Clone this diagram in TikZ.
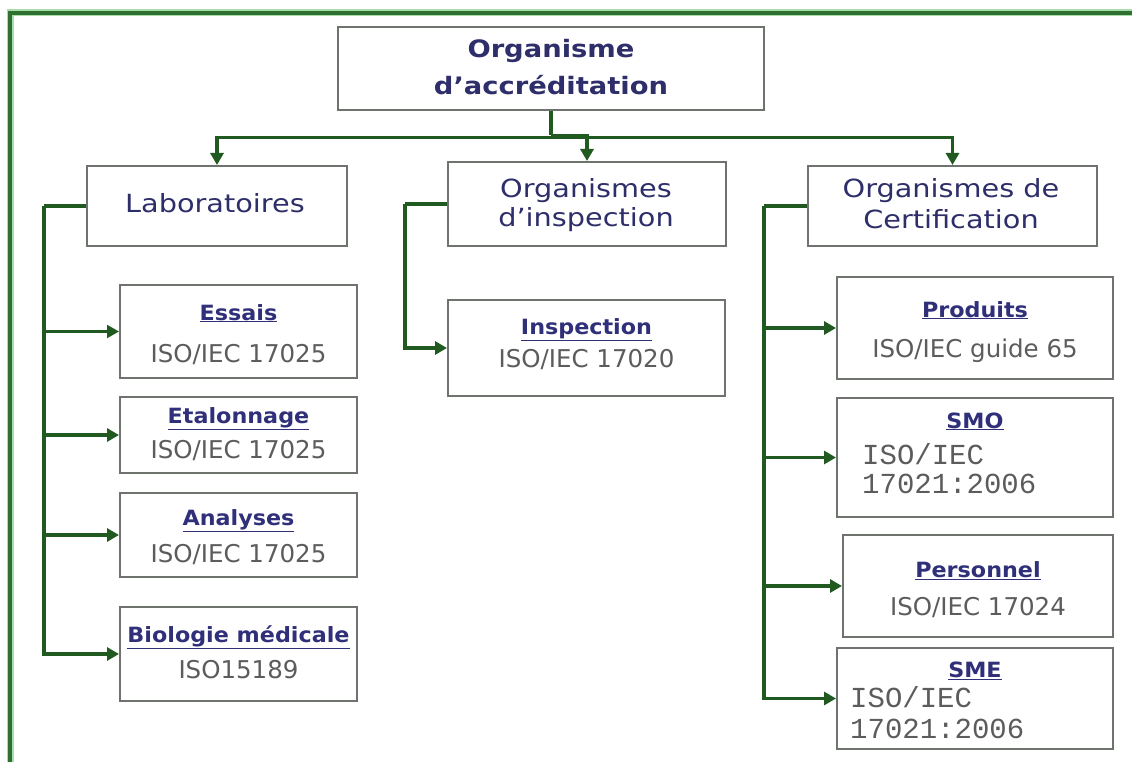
\documentclass[tikz,border=0pt]{standalone}
\usepackage{fontspec}
\setmainfont{DejaVu Sans}
\newfontfamily\headf{DejaVu Sans}[FakeStretch=1.15]
\newfontfamily\topf{DejaVu Sans Bold}[FakeStretch=1.14]
\newfontfamily\subf{DejaVu Sans Bold}[FakeStretch=1.06]
\newfontfamily\monof{Liberation Mono}
\usetikzlibrary{arrows.meta,calc}

\definecolor{navy}{HTML}{2E2E6A}
\definecolor{subnavy}{HTML}{30307A}
\definecolor{isogray}{HTML}{5C5C5C}
\definecolor{boxgray}{HTML}{6E736E}
\definecolor{wire}{HTML}{215A21}
\definecolor{framegreen}{HTML}{2F6F2F}
\definecolor{framehalo}{HTML}{A8DCA8}

\tikzset{
  box/.style={draw=boxgray, line width=2pt, fill=white, inner sep=0pt},
  conn/.style={draw=wire, line width=3.4pt},
  thinconn/.style={conn, line width=2.2pt},
  tip/.style={-{Triangle[length=12pt,width=13pt]}},
  arr/.style={conn, tip},
  thinarr/.style={thinconn, tip},
  txt/.style={anchor=base, inner sep=0pt},
  toptxt/.style={txt, text=navy, font=\topf\fontsize{24}{28}\selectfont},
  headtxt/.style={txt, text=navy, font=\headf\fontsize{25}{30}\selectfont},
  subtxt/.style={txt, text=subnavy, font=\subf\fontsize{21}{25}\selectfont},
  isotxt/.style={txt, text=isogray, font=\fontsize{24.5}{29}\selectfont},
  monotxt/.style={anchor=base west, inner sep=0pt, text=isogray, font=\monof\fontsize{29}{33}\selectfont},
}

\begin{document}
\begin{tikzpicture}[x=1pt, y=-1pt]
\useasboundingbox (0,0) rectangle (1132,762);
\fill[white] (0,0) rectangle (1132,762);

% outer frame (left and top edges)
\draw[framehalo, line width=7pt] (10,762) -- (10,13) -- (1132,13);
\draw[framegreen, line width=3.5pt] (10,762) -- (10,13) -- (1132,13);

% boxes
\node[box, minimum width=426pt, minimum height=83pt] (acc) at (551,68.5) {};
\node[box, minimum width=260pt, minimum height=80pt] (lab) at (217,206) {};
\node[box, minimum width=278pt, minimum height=84pt] (insp) at (587,204) {};
\node[box, minimum width=289pt, minimum height=80pt] (cert) at (952.5,206) {};

\node[box, minimum width=237pt, minimum height=93pt] (essais) at (238.5,331.5) {};
\node[box, minimum width=237pt, minimum height=76pt] (etal) at (238.5,435) {};
\node[box, minimum width=237pt, minimum height=84pt] (anal) at (238.5,535) {};
\node[box, minimum width=237pt, minimum height=94pt] (bio) at (238.5,654) {};

\node[box, minimum width=277pt, minimum height=96pt] (inspe) at (586.5,348) {};

\node[box, minimum width=276pt, minimum height=102pt] (prod) at (975,328) {};
\node[box, minimum width=276pt, minimum height=119pt] (smo) at (975,457.5) {};
\node[box, minimum width=270pt, minimum height=102pt] (pers) at (978,586) {};
\node[box, minimum width=276pt, minimum height=101pt] (sme) at (975,698.5) {};

% top-level distribution
\coordinate (hub) at ($(acc.south)+(0,24.5)$);
\coordinate (hubbus) at ($(acc.south)+(0,26.5)$);
\draw[conn] (acc.south) -- (hub);
\draw[arr] (hubbus) -| (lab.north);
\draw[arr] (hub) -| (insp.north);
\draw[arr] (hubbus) -| (cert.north);

% laboratories branch
\coordinate (labbus) at ($(lab.west)+(-42,0)$);
\draw[conn] (lab.west) -- (labbus);
\draw[thinarr] (labbus) |- (essais.west);
\draw[arr] (labbus) |- (etal.west);
\draw[arr] (labbus) |- (anal.west);
\draw[arr] (labbus) |- (bio.west);

% inspection branch
\coordinate (inspbus) at ($(insp.west)+(-42,0)$);
\draw[conn] (insp.west) -- (inspbus);
\draw[arr] (inspbus) |- (inspe.west);

% certification branch
\coordinate (certbus) at ($(cert.west)+(-43,0)$);
\draw[conn] (cert.west) -- (certbus);
\draw[arr] (certbus) |- (prod.west);
\draw[arr] (certbus) |- (smo.west);
\draw[arr] (certbus) |- (pers.west);
\draw[arr] (certbus) |- (sme.west);

% texts
\node[toptxt] (accA) at (551,58) {Organisme};
\node[toptxt] (accB) at (551,95) {d’accréditation};

\node[headtxt] (labT) at (215,213) {Laboratoires};
\node[headtxt] (inspA) at (586,197) {Organismes};
\node[headtxt] (inspB) at (586,226) {d’inspection};
\node[headtxt] (certA) at (951,198) {Organismes de};
\node[headtxt] (certB) at (951,229) {Certification};

\node[subtxt] (essaisT) at (238.5,320) {\underline{Essais}};
\node[isotxt] (essaisN) at (238.5,362) {ISO/IEC 17025};
\node[subtxt] (etalT) at (238.5,423) {\underline{Etalonnage}};
\node[isotxt] (etalN) at (238.5,458) {ISO/IEC 17025};
\node[subtxt] (analT) at (238.5,525) {\underline{Analyses}};
\node[isotxt] (analN) at (238.5,562) {ISO/IEC 17025};
\node[subtxt] (bioT) at (238.5,642) {\underline{Biologie médicale}};
\node[isotxt] (bioN) at (238.5,678) {ISO15189};

\node[subtxt] (inspeT) at (586.5,334) {\underline{Inspection}};
\node[isotxt] (inspeN) at (586.5,367) {ISO/IEC 17020};

\node[subtxt] (prodT) at (975,317) {\underline{Produits}};
\node[isotxt] (prodN) at (975,357) {ISO/IEC guide 65};
\node[subtxt] (smoT) at (975,428) {\underline{SMO}};
\node[monotxt] (smoA) at (862,464) {ISO/IEC};
\node[monotxt] (smoB) at (862,493) {17021:2006};
\node[subtxt] (persT) at (978,577) {\underline{Personnel}};
\node[isotxt] (persN) at (978,615) {ISO/IEC 17024};
\node[subtxt] (smeT) at (975,677) {\underline{SME}};
\node[monotxt] (smeA) at (850,707) {ISO/IEC};
\node[monotxt] (smeB) at (850,738) {17021:2006};
\end{tikzpicture}
\end{document}
